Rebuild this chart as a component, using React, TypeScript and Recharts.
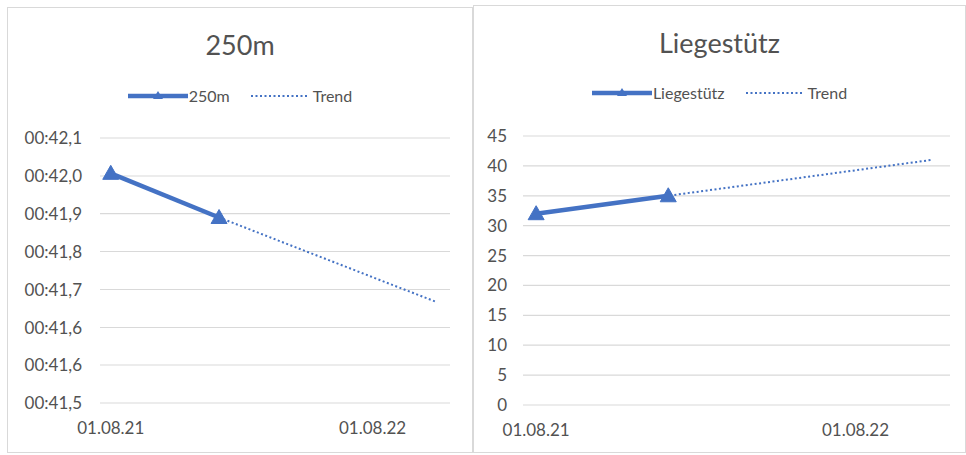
import React from 'react';
import { LineChart, Line, XAxis, YAxis, CartesianGrid, Legend } from 'recharts';

// --- shared dates (x axis) ---
const dates = ['2021-08-01', '2021-12-30', '2022-10-27'];
const xDomain = ['2021-07-17', '2022-11-17'];
const xTicks = ['2021-08-01', '2022-08-01'];

// --- 250m run (seconds) ---
const runTimes = [42.02, 41.92, null];
const runTrend = [42.02, 41.92, 41.73];
const runTicks = [41.5, 41.586, 41.671, 41.757, 41.843, 41.929, 42.014, 42.1];
const runTickLabels = ['00:41,5', '00:41,6', '00:41,6', '00:41,7', '00:41,8', '00:41,9', '00:42,0', '00:42,1'];

// --- push-ups ---
const pushUps = [32, 35, null];
const pushUpTrend = [32, 35, 41];
const pushUpTicks = [0, 5, 10, 15, 20, 25, 30, 35, 40, 45];

const BLUE = '#4472C4';
const TEXT = '#525252';
const GRID = '#D9D9D9';
const FONT = 'Lato, "Open Sans", sans-serif';

const ts = (d: string) => new Date(d).getTime();
const fmtDate = (v: number) => {
  const d = new Date(v);
  const p = (n: number) => String(n).padStart(2, '0');
  return `${p(d.getUTCDate())}.${p(d.getUTCMonth() + 1)}.${String(d.getUTCFullYear()).slice(2)}`;
};

const buildRows = (main: (number | null)[], trend: number[]) =>
  dates.map((d, i) => ({ date: ts(d), value: main[i], trend: trend[i] }));

const runRows = buildRows(runTimes, runTrend);
const pushRows = buildRows(pushUps, pushUpTrend);

const TriangleDot = (props: any) => {
  const { cx, cy, index } = props;
  if (cx == null || cy == null) return <g key={`d-${index}`} />;
  return (
    <polygon
      key={`d-${index}`}
      points={`${cx},${cy - 8} ${cx - 8},${cy + 6} ${cx + 8},${cy + 6}`}
      fill={BLUE}
      stroke={BLUE}
      strokeWidth={1}
      strokeLinejoin="round"
    />
  );
};

const ChartLegend = ({ name }: { name: string }) => (
  <div style={{ display: 'flex', justifyContent: 'center', alignItems: 'center', fontFamily: FONT, fontSize: 16, color: TEXT, lineHeight: '20px' }}>
    <svg width={60} height={16}>
      <line x1={0} y1={8} x2={60} y2={8} stroke={BLUE} strokeWidth={4.5} />
      <polygon points="30,3 25,11 35,11" fill={BLUE} />
    </svg>
    <span style={{ marginLeft: 1 }}>{name}</span>
    <svg width={56} height={16} style={{ marginLeft: 21 }}>
      <line x1={0} y1={8} x2={56} y2={8} stroke={BLUE} strokeWidth={2} strokeDasharray="2 2.5" />
    </svg>
    <span style={{ marginLeft: 6 }}>Trend</span>
  </div>
);

type PanelProps = {
  title: string;
  rows: any[];
  left: number;
  top: number;
  width: number;
  height: number;
  yWidth: number;
  yDomain: number[];
  yTicks: number[];
  yFormat?: (v: number, i: number) => string;
  yTickMargin: number;
  margin: { top: number; right: number; bottom: number; left: number };
  legendTop: number;
};

const Panel = (p: PanelProps) => {
  const innerW = p.width - 2;
  const innerH = p.height - 2;
  return (
    <div
      style={{
        position: 'absolute',
        left: p.left,
        top: p.top,
        width: p.width,
        height: p.height,
        boxSizing: 'border-box',
        border: `1px solid ${GRID}`,
        background: '#fff',
      }}
    >
      <div
        style={{
          position: 'absolute',
          left: 0,
          top: 21,
          width: '100%',
          textAlign: 'center',
          fontFamily: FONT,
          fontSize: 27,
          lineHeight: '32px',
          color: TEXT,
        }}
      >
        {p.title}
      </div>
      <LineChart width={innerW} height={innerH} data={p.rows} margin={p.margin}>
        <CartesianGrid horizontal vertical={false} stroke={GRID} strokeWidth={1.2} />
        <XAxis
          dataKey="date"
          type="number"
          scale="time"
          domain={xDomain.map(ts)}
          ticks={xTicks.map(ts)}
          tickFormatter={fmtDate}
          axisLine={false}
          tickLine={false}
          tickMargin={13}
          height={30}
          interval={0}
          tick={{ fontSize: 17, fill: TEXT, fontFamily: FONT }}
        />
        <YAxis
          type="number"
          domain={p.yDomain}
          ticks={p.yTicks}
          tickFormatter={p.yFormat}
          axisLine={false}
          tickLine={false}
          width={p.yWidth}
          tickMargin={p.yTickMargin}
          interval={0}
          tick={{ fontSize: 17, fill: TEXT, fontFamily: FONT }}
        />
        <Legend
          verticalAlign="middle"
          align="center"
          layout="horizontal"
          wrapperStyle={{ top: p.legendTop, left: 0, width: innerW }}
          content={() => <ChartLegend name={p.title} />}
        />
        <Line
          dataKey="trend"
          name="Trend"
          stroke={BLUE}
          strokeWidth={2}
          strokeDasharray="2 2.5"
          dot={false}
          activeDot={false}
          isAnimationActive={false}
          type="linear"
        />
        <Line
          dataKey="value"
          name={p.title}
          stroke={BLUE}
          strokeWidth={4.5}
          dot={TriangleDot}
          activeDot={false}
          isAnimationActive={false}
          type="linear"
        />
      </LineChart>
    </div>
  );
};

export default function App() {
  return (
    <div style={{ position: 'absolute', left: 0, top: 0, width: 966, height: 455, background: '#fff', overflow: 'hidden' }}>
      <Panel
        title="250m"
        rows={runRows}
        left={7}
        top={7}
        width={466}
        height={446}
        yWidth={92}
        yDomain={[41.5, 42.1]}
        yTicks={runTicks}
        yFormat={(v: number) => runTickLabels[runTicks.indexOf(v)] ?? ''}
        yTickMargin={12}
        margin={{ top: 130, right: 22, bottom: 19, left: 0 }}
        legendTop={78}
      />
      <Panel
        title="Liegestütz"
        rows={pushRows}
        left={473}
        top={5}
        width={493}
        height={448}
        yWidth={49}
        yDomain={[0, 45]}
        yTicks={pushUpTicks}
        yTickMargin={10}
        margin={{ top: 130, right: 15, bottom: 17, left: 0 }}
        legendTop={77}
      />
    </div>
  );
}
